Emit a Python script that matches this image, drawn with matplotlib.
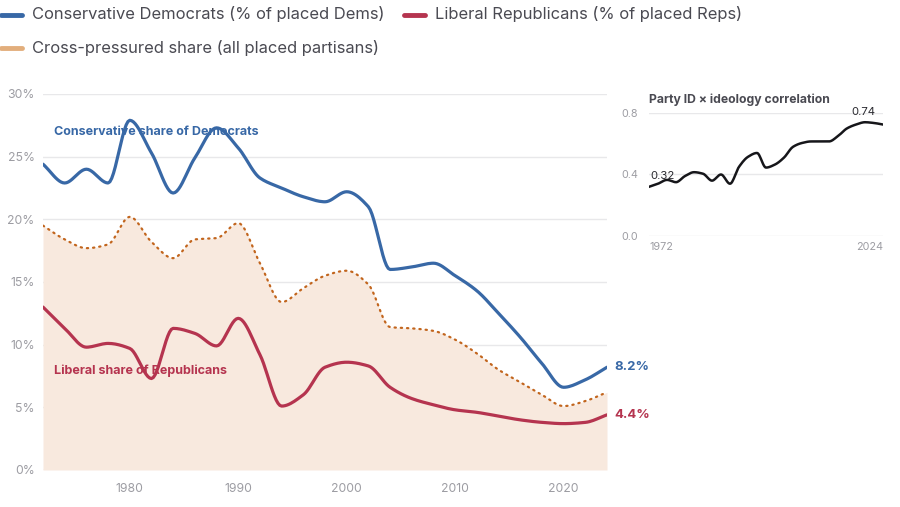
import numpy as np
import matplotlib
matplotlib.use("Agg")
import matplotlib.pyplot as plt
from matplotlib.lines import Line2D

plt.rcParams['font.family'] = ['Inter', 'DejaVu Sans']

# ---------------- data ----------------
years = [1972, 1974, 1976, 1978, 1980, 1982, 1984, 1986, 1988, 1990, 1992, 1994,
         1996, 1998, 2000, 2002, 2004, 2006, 2008, 2010, 2012, 2014, 2016, 2018,
         2020, 2022, 2024]
cons_dems = [24.4, 22.9, 24.0, 22.9, 27.9, 25.3, 22.1, 24.9, 27.3, 25.7, 23.3, 22.5,
             21.8, 21.4, 22.2, 21.0, 16.0, 16.2, 16.5, 15.5, 14.3, 12.5, 10.6, 8.5,
             6.6, 7.2, 8.2]
lib_reps = [13.0, 11.3, 9.8, 10.1, 9.7, 7.3, 11.3, 10.9, 9.9, 12.1, 9.2, 5.1,
            6.0, 8.2, 8.6, 8.3, 6.6, 5.7, 5.2, 4.8, 4.6, 4.3, 4.0, 3.8,
            3.7, 3.8, 4.4]
cross = [19.5, 18.4, 17.7, 18.0, 20.2, 18.2, 16.9, 18.4, 18.5, 19.7, 16.5, 13.4,
         14.5, 15.5, 15.9, 14.8, 11.4, 11.3, 11.1, 10.4, 9.3, 8.0, 7.0, 6.0,
         5.1, 5.5, 6.2]
corr = [0.32, 0.34, 0.365, 0.35, 0.39, 0.415, 0.405, 0.36, 0.40, 0.34, 0.45, 0.515,
        0.54, 0.445, 0.465, 0.51, 0.58, 0.605, 0.615, 0.615, 0.615, 0.65, 0.70, 0.725,
        0.74, 0.735, 0.725]

y_ticks = [0, 5, 10, 15, 20, 25, 30]
y_tick_labels = ["0%", "5%", "10%", "15%", "20%", "25%", "30%"]
x_ticks = [1980, 1990, 2000, 2010, 2020]
inset_y_ticks = [0.0, 0.4, 0.8]
inset_y_labels = ["0.0", "0.4", "0.8"]

legend_labels = ["Conservative Democrats (% of placed Dems)",
                 "Liberal Republicans (% of placed Reps)",
                 "Cross-pressured share (all placed partisans)"]

BLUE = "#3868a6"
RED = "#b5344f"
ORANGE_LEG = "#e2ae7c"
ORANGE_DOT = "#c2651d"
FILL = "#f8e9de"
GRID = "#e8e8ea"
TICK = "#9d9da3"


def monotone(x, y, n=12):
    """Monotone cubic (Fritsch-Carlson) smoothing for rendering."""
    x = np.asarray(x, float)
    y = np.asarray(y, float)
    h = np.diff(x)
    d = np.diff(y) / h
    m = np.zeros_like(y)
    m[0] = d[0]
    m[-1] = d[-1]
    for i in range(1, len(y) - 1):
        if d[i - 1] * d[i] <= 0:
            m[i] = 0
        else:
            w1 = 2 * h[i] + h[i - 1]
            w2 = h[i] + 2 * h[i - 1]
            m[i] = (w1 + w2) / (w1 / d[i - 1] + w2 / d[i])
    xs, ys = [], []
    for i in range(len(x) - 1):
        t = np.linspace(0, 1, n, endpoint=(i == len(x) - 2))
        h00 = 2 * t**3 - 3 * t**2 + 1
        h10 = t**3 - 2 * t**2 + t
        h01 = -2 * t**3 + 3 * t**2
        h11 = t**3 - t**2
        xs.append(x[i] + t * h[i])
        ys.append(h00 * y[i] + h10 * h[i] * m[i] + h01 * y[i + 1] + h11 * h[i] * m[i + 1])
    return np.concatenate(xs), np.concatenate(ys)


fig = plt.figure(figsize=(9, 5.07), dpi=100)

# ---------------- main axes ----------------
ax = fig.add_axes([43 / 900, 1 - 470 / 507, 564 / 900, 376 / 507])
ax.set_xlim(1972, 2024)
ax.set_ylim(0, 30)
for s in ax.spines.values():
    s.set_visible(False)
ax.set_yticks(y_ticks)
ax.set_yticklabels(y_tick_labels)
ax.set_xticks(x_ticks)
ax.tick_params(axis='both', length=0, colors=TICK, labelsize=8.8)
ax.tick_params(axis='y', pad=6)
ax.tick_params(axis='x', pad=9)
for yt in y_ticks:
    ax.axhline(yt, color=GRID if yt else "#dedee2", lw=1, zorder=0)

xc, yc = monotone(years, cross)
ax.fill_between(xc, 0, yc, color=FILL, lw=0, zorder=1)
ax.plot(xc, yc, color=ORANGE_DOT, lw=1.6, ls=(0, (0.6, 2.2)),
        dash_capstyle='round', zorder=2)

xd, yd = monotone(years, cons_dems)
ax.plot(xd, yd, color=BLUE, lw=2.3, solid_capstyle='round', zorder=3)
xr, yr = monotone(years, lib_reps)
ax.plot(xr, yr, color=RED, lw=2.3, solid_capstyle='round', zorder=3)

ax.text(1973, 27.0, "Conservative share of Democrats", color=BLUE,
        fontsize=9, fontweight='bold', va='center', ha='left', zorder=4)
ax.text(1973, 7.9, "Liberal share of Republicans", color=RED,
        fontsize=9, fontweight='bold', va='center', ha='left', zorder=4)
ax.annotate(f"{cons_dems[-1]:.1f}%", (years[-1], cons_dems[-1]), xytext=(5, 0),
            textcoords='offset points', color=BLUE, fontsize=9.5,
            fontweight='bold', va='center', ha='left', annotation_clip=False)
ax.annotate(f"{lib_reps[-1]:.1f}%", (years[-1], lib_reps[-1]), xytext=(5, 0),
            textcoords='offset points', color=RED, fontsize=9.5,
            fontweight='bold', va='center', ha='left', annotation_clip=False)

# ---------------- inset ----------------
ia = fig.add_axes([649 / 900, 1 - 236 / 507, 234 / 900, 123 / 507])
ia.set_xlim(1972, 2024)
ia.set_ylim(0, 0.8)
for s in ia.spines.values():
    s.set_visible(False)
ia.set_yticks(inset_y_ticks)
ia.set_yticklabels(inset_y_labels)
ia.set_xticks([years[0], years[-1]])
ia.get_xticklabels()[0].set_ha('left')
ia.get_xticklabels()[-1].set_ha('right')
ia.tick_params(axis='both', length=0, colors=TICK, labelsize=7.8)
ia.tick_params(axis='y', pad=8)
ia.tick_params(axis='x', pad=4)
for yt in inset_y_ticks:
    ia.axhline(yt, color=GRID, lw=1, zorder=0)
xi, yi = monotone(years, corr)
ia.plot(xi, yi, color="#16161a", lw=1.8, zorder=3)
ia.annotate(f"{corr[0]:.2f}", (years[0], corr[0]), xytext=(1, 4),
            textcoords='offset points', fontsize=8.2, color="#2a2a30",
            ha='left', va='bottom')
imax = int(np.argmax(corr))
ia.annotate(f"{corr[imax]:.2f}", (years[imax], corr[imax]), xytext=(-1, 4),
            textcoords='offset points', fontsize=8.2, color="#2a2a30",
            ha='center', va='bottom', annotation_clip=False)
ia.text(0, 1.06, "Party ID \u00d7 ideology correlation", transform=ia.transAxes,
        fontsize=8.8, fontweight='bold', color="#4a4a52", ha='left', va='bottom')

# ---------------- legend (manual) ----------------
def leg(x0, y0, color, label):
    fig.add_artist(Line2D([x0 / 900, (x0 + 21) / 900], [1 - y0 / 507, 1 - y0 / 507],
                          color=color, lw=3.5, solid_capstyle='round'))
    fig.text((x0 + 31) / 900, 1 - y0 / 507, label, fontsize=11.9, color="#4a4a52",
             ha='left', va='center')

leg(1, 14.5, BLUE, legend_labels[0])
leg(404, 14.5, RED, legend_labels[1])
leg(1, 48, ORANGE_LEG, legend_labels[2])

fig.savefig("out.png", dpi=100)
